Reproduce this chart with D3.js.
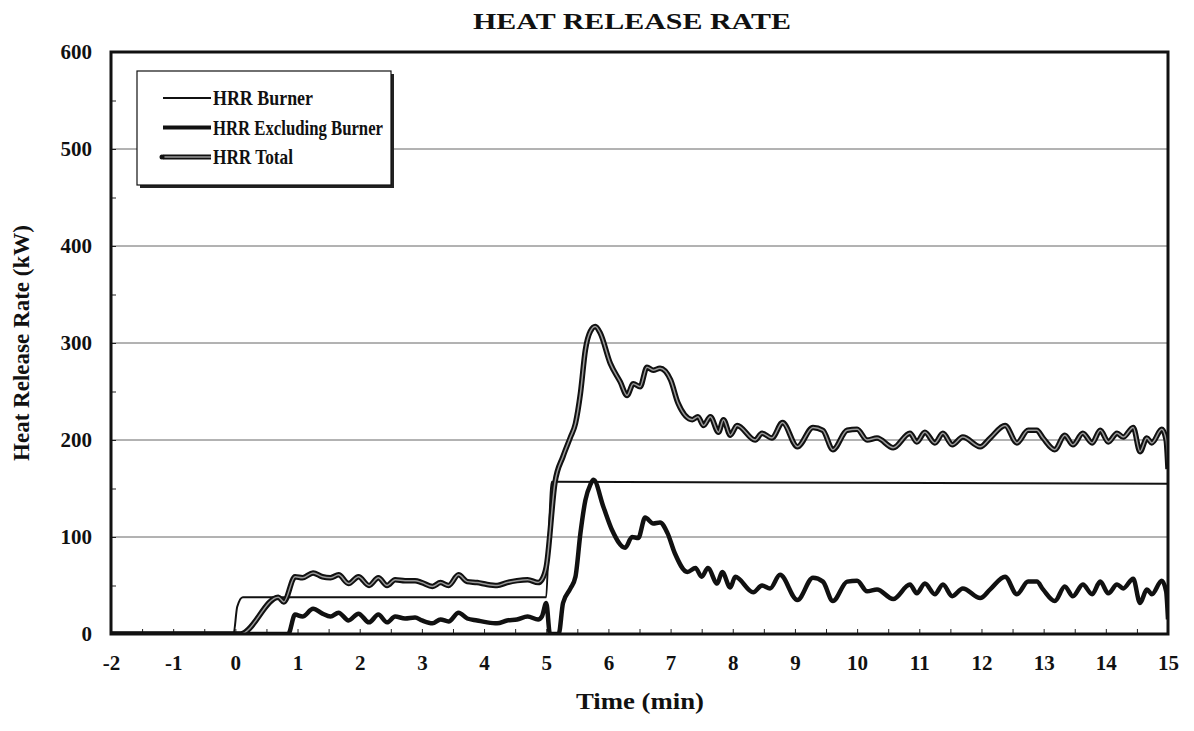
<!DOCTYPE html>
<html>
<head>
<meta charset="utf-8">
<script src="https://cdn.jsdelivr.net/npm/d3@7"></script>
<style>
  body { margin: 0; background: #fff; }
  svg text { font-family: 'Liberation Serif', 'Times New Roman', serif; font-weight: bold; fill: #111; }
</style>
</head>
<body>
<div id="graf"></div>
<script>
// datos: [tiempo (min), HRR (kW)]
const hrrBurner = [
  [-2, 0], [-0.03, 0], [0.03, 28], [0.12, 38], [5.0, 38], [5.04, 100], [5.09, 157],
  [10, 156], [15, 155]
]

const hrrExcl = [
  [-2, 0], [0.85, 0], [0.96, 20], [1.08, 18], [1.25, 26], [1.4, 21], [1.53, 18],
  [1.66, 22], [1.82, 14], [1.98, 21], [2.15, 12], [2.3, 20], [2.44, 12], [2.57, 18],
  [2.73, 16], [2.89, 17], [3.0, 14], [3.17, 11], [3.3, 15], [3.43, 13], [3.59, 22],
  [3.73, 16], [3.89, 14], [4.05, 12], [4.21, 11], [4.37, 14], [4.53, 15], [4.7, 18],
  [4.87, 15], [4.93, 18], [5.0, 32], [5.06, 0], [5.2, 0], [5.27, 32], [5.39, 47],
  [5.47, 59], [5.55, 104], [5.63, 138], [5.71, 154], [5.76, 159], [5.92, 131],
  [6.06, 107], [6.27, 89], [6.38, 100], [6.48, 99], [6.59, 120], [6.72, 114],
  [6.83, 115], [6.95, 104], [7.07, 83], [7.27, 64], [7.4, 68], [7.5, 59], [7.6, 68],
  [7.75, 52], [7.83, 64], [7.96, 48], [8.04, 59], [8.33, 43], [8.47, 50], [8.6, 47],
  [8.76, 61], [9.04, 35], [9.29, 58], [9.45, 54], [9.61, 34], [9.84, 54], [10.0, 55],
  [10.16, 44], [10.32, 46], [10.58, 36], [10.85, 51], [10.96, 42], [11.09, 52],
  [11.25, 41], [11.38, 51], [11.53, 39], [11.7, 47], [11.98, 37], [12.14, 46],
  [12.38, 59], [12.57, 41], [12.75, 54], [12.89, 54], [12.99, 46], [13.18, 34],
  [13.34, 49], [13.47, 39], [13.63, 51], [13.78, 41], [13.91, 54], [14.04, 42],
  [14.18, 51], [14.28, 47], [14.44, 57], [14.55, 32], [14.66, 46], [14.74, 41],
  [14.9, 55], [14.97, 44], [15.0, 15]
]

const hrrTotal = [
  [-2, 0], [0.08, 0], [0.69, 38], [0.78, 33], [0.96, 59], [1.08, 58], [1.25, 63],
  [1.4, 59], [1.53, 58], [1.66, 61], [1.82, 52], [1.98, 59], [2.15, 50], [2.3, 58],
  [2.44, 50], [2.57, 56], [2.73, 55], [2.89, 55], [3.0, 53], [3.17, 49], [3.3, 53],
  [3.43, 50], [3.59, 61], [3.73, 54], [3.89, 53], [4.05, 51], [4.21, 50], [4.37, 53],
  [4.53, 55], [4.7, 56], [4.87, 53], [4.93, 56], [5.0, 69], [5.14, 156], [5.27, 183],
  [5.39, 203], [5.47, 217], [5.55, 248], [5.63, 293], [5.71, 312], [5.79, 317],
  [5.87, 310], [6.03, 279], [6.19, 260], [6.3, 246], [6.4, 258], [6.51, 255],
  [6.62, 275], [6.72, 272], [6.83, 274], [7.0, 262], [7.12, 238], [7.35, 221],
  [7.44, 224], [7.53, 215], [7.64, 224], [7.77, 208], [7.85, 221], [7.96, 205],
  [8.07, 215], [8.36, 200], [8.47, 207], [8.63, 202], [8.8, 218], [9.04, 193],
  [9.29, 213], [9.45, 210], [9.61, 190], [9.84, 210], [10.0, 211], [10.16, 200],
  [10.32, 202], [10.58, 192], [10.85, 207], [10.96, 198], [11.09, 208], [11.25, 197],
  [11.38, 207], [11.53, 195], [11.7, 203], [11.98, 193], [12.14, 202], [12.38, 215],
  [12.57, 197], [12.75, 210], [12.89, 210], [12.99, 202], [13.18, 190], [13.34, 205],
  [13.47, 195], [13.63, 207], [13.78, 197], [13.91, 210], [14.04, 198], [14.18, 207],
  [14.28, 203], [14.44, 213], [14.55, 188], [14.66, 202], [14.74, 197], [14.9, 211],
  [14.97, 200], [15.0, 170]
]

const xTicks = d3.range(-2, 16, 1)
const yTicks = [0, 100, 200, 300, 400, 500, 600]
const gridValues = [100, 200, 300, 400, 500]
const legendNames = ['HRR Burner', 'HRR Excluding Burner', 'HRR Total']

const anchoTotal = 1194
const altoTotal = 731

const margin = { top: 52, bottom: 97, left: 111, right: 26 }
const ancho = anchoTotal - margin.left - margin.right
const alto = altoTotal - margin.top - margin.bottom

const svg = d3.select('#graf')
  .append('svg')
  .attr('width', anchoTotal)
  .attr('height', altoTotal)

const g = svg.append('g')
  .attr('transform', `translate(${margin.left}, ${margin.top})`)

// escaladores
const x = d3.scaleLinear().domain([-2, 15]).range([0, ancho])
const y = d3.scaleLinear().domain([0, 600]).range([alto, 0])

// rejilla
g.selectAll('.grid')
  .data(gridValues)
  .join('line')
  .attr('class', 'grid')
  .attr('x1', 0)
  .attr('x2', ancho)
  .attr('y1', (d) => y(d))
  .attr('y2', (d) => y(d))
  .attr('stroke', '#666')
  .attr('stroke-width', 1)

// ticks menores hacia adentro
g.append('g')
  .attr('transform', `translate(0, ${alto})`)
  .call(d3.axisBottom(x).tickValues(d3.range(-2, 15.01, 0.5)).tickSize(-5).tickFormat(''))
  .call((a) => a.select('.domain').remove())
  .selectAll('line').attr('stroke', '#222')

g.append('g')
  .call(d3.axisLeft(y).tickValues(d3.range(0, 601, 50)).tickSize(-5).tickFormat(''))
  .call((a) => a.select('.domain').remove())
  .selectAll('line').attr('stroke', '#222')

// etiquetas de ejes
const ejeX = g.append('g')
  .attr('transform', `translate(0, ${alto})`)
  .call(d3.axisBottom(x).tickValues(xTicks).tickSize(0).tickPadding(21).tickFormat((d) => String(d)))
ejeX.select('.domain').remove()
ejeX.selectAll('text').style('font-size', '21px').attr('fill', '#111')

const ejeY = g.append('g')
  .call(d3.axisLeft(y).tickValues(yTicks).tickSize(0).tickPadding(19))
ejeY.select('.domain').remove()
ejeY.selectAll('text').style('font-size', '21px').attr('fill', '#111')

svg.selectAll('.tick text').style('font-family', "'Liberation Serif', 'Times New Roman', serif").style('font-weight', 'bold')

// curvas
g.append('clipPath').attr('id', 'clip')
  .append('rect').attr('width', ancho).attr('height', alto + 2).attr('y', -2)

const linea = d3.line()
  .x((d) => x(d[0]))
  .y((d) => y(d[1]))
  .curve(d3.curveMonotoneX)

const curvas = g.append('g').attr('clip-path', 'url(#clip)')

curvas.append('path').datum(hrrBurner)
  .attr('d', linea).attr('fill', 'none').attr('stroke', '#111').attr('stroke-width', 2)

curvas.append('path').datum(hrrExcl)
  .attr('d', linea).attr('fill', 'none').attr('stroke', '#111').attr('stroke-width', 4.5)
  .attr('stroke-linejoin', 'round')

curvas.append('path').datum(hrrTotal)
  .attr('d', linea).attr('fill', 'none').attr('stroke', '#111').attr('stroke-width', 5.5)
  .attr('stroke-linejoin', 'round')
curvas.append('path').datum(hrrTotal)
  .attr('d', linea).attr('fill', 'none').attr('stroke', '#9a9a9a').attr('stroke-width', 1.5)
  .attr('stroke-linejoin', 'round')

// marco
g.append('rect')
  .attr('x', 0).attr('y', 0).attr('width', ancho).attr('height', alto)
  .attr('fill', 'none').attr('stroke', '#111').attr('stroke-width', 3)

// leyenda
const leg = svg.append('g').attr('transform', 'translate(137, 71)')
leg.append('rect').attr('x', 3).attr('y', 3).attr('width', 254).attr('height', 114).attr('fill', '#222')
leg.append('rect').attr('x', 0).attr('y', 0).attr('width', 254).attr('height', 114)
  .attr('fill', '#fff').attr('stroke', '#111').attr('stroke-width', 1.2)

const filas = leg.selectAll('.fila')
  .data(legendNames)
  .join('g')
  .attr('class', 'fila')
  .attr('transform', (d, i) => `translate(0, ${27 + i * 29.5})`)

filas.append('line')
  .attr('x1', 26).attr('x2', 74).attr('y1', 0).attr('y2', 0)
  .attr('stroke', '#111')
  .attr('stroke-width', (d, i) => [2, 4, 5][i])
filas.filter((d, i) => i === 2).append('line')
  .attr('x1', 26).attr('x2', 74).attr('y1', 0).attr('y2', 0)
  .attr('stroke', '#9a9a9a').attr('stroke-width', 1.5)
filas.filter((d, i) => i === 2).append('circle')
  .attr('cx', 25).attr('cy', 0).attr('r', 2.5).attr('fill', '#111')

filas.append('text')
  .attr('x', 76).attr('y', 7)
  .style('font-size', '21px')
  .attr('textLength', (d, i) => [100, 170, 80][i])
  .attr('lengthAdjust', 'spacingAndGlyphs')
  .text((d) => d)

// titulos
svg.append('text')
  .attr('x', 632).attr('y', 29)
  .attr('text-anchor', 'middle')
  .style('font-size', '24px')
  .attr('textLength', 318)
  .attr('lengthAdjust', 'spacingAndGlyphs')
  .text('HEAT RELEASE RATE')

svg.append('text')
  .attr('x', 640).attr('y', 709)
  .attr('text-anchor', 'middle')
  .style('font-size', '23px')
  .attr('textLength', 128)
  .attr('lengthAdjust', 'spacingAndGlyphs')
  .text('Time (min)')

svg.append('text')
  .attr('transform', `translate(29, ${margin.top + y(300)}) rotate(-90)`)
  .attr('text-anchor', 'middle')
  .style('font-size', '23px')
  .attr('textLength', 236)
  .attr('lengthAdjust', 'spacingAndGlyphs')
  .text('Heat Release Rate (kW)')
</script>
</body>
</html>
